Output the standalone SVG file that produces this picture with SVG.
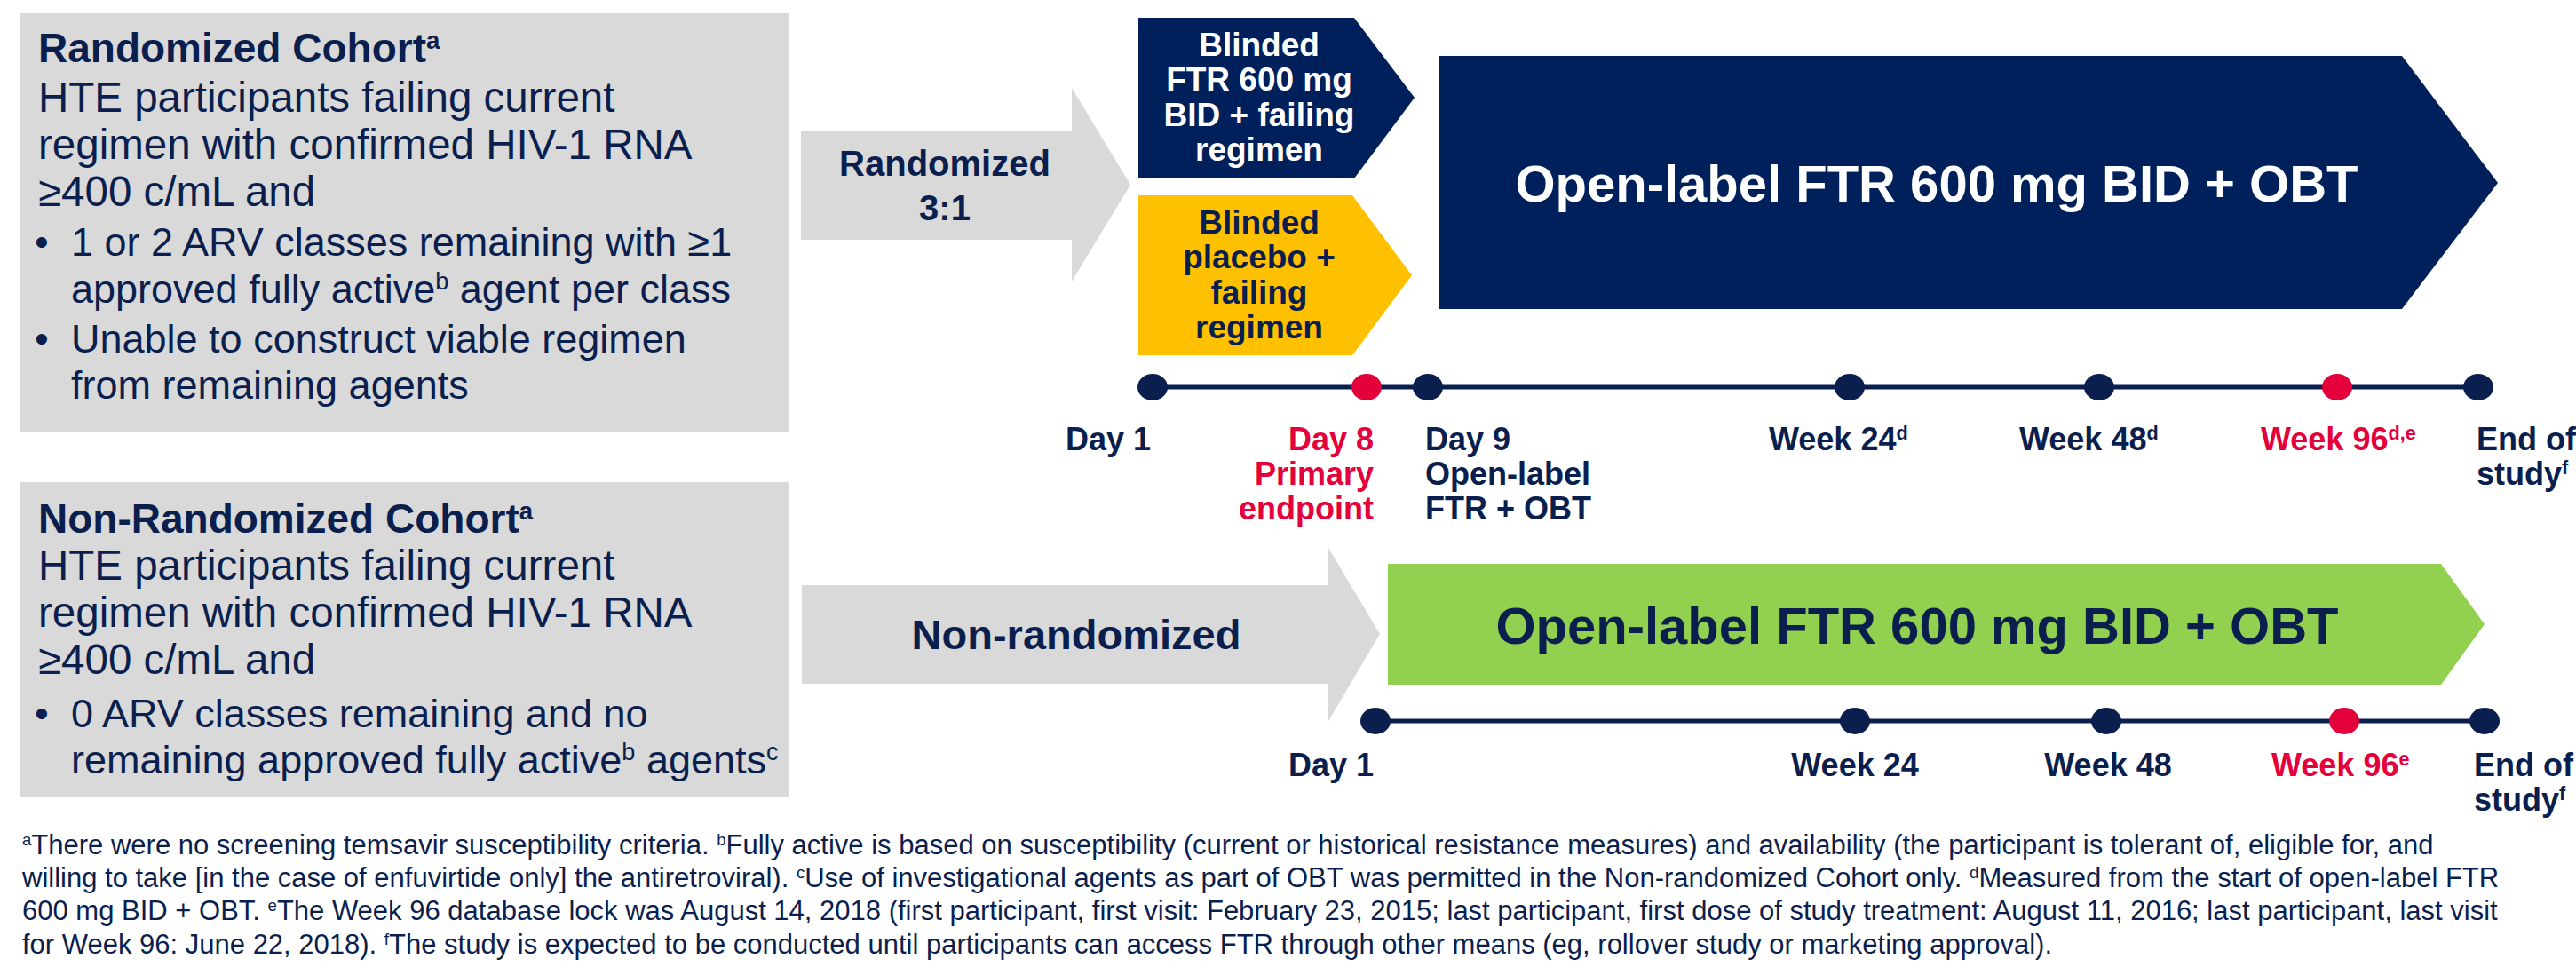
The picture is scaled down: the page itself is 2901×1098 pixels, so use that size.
<svg xmlns="http://www.w3.org/2000/svg" width="2901" height="1098" viewBox="0 0 2901 1098">
<style>
text{font-family:"Liberation Sans",Arial,sans-serif;fill:#0b1f4f}
.b{font-weight:bold}
.hd{font-size:46px;font-weight:bold}
.box{font-size:47.5px}
.bl{font-size:45px}
.tl{font-size:36px;font-weight:bold}
.red{fill:#e4003b}
.w{fill:#ffffff}
.fn{font-size:31px}
.sup{font-size:60%;baseline-shift:super}
.gray{fill:#d9d9d9}
.navy{fill:#00205b}
.dot{fill:#0b1f4f}
.rdot{fill:#e4003b}
.line{stroke:#0b1f4f;stroke-width:5;fill:none}
</style>
<rect width="2901" height="1098" fill="#ffffff"/>

<g id="randomized-cohort">
<rect class="gray" x="23" y="15" width="865" height="471"/>
<text class="hd" x="43" y="70">Randomized Cohort<tspan class="sup">a</tspan></text>
<text class="box" x="43" y="126">HTE participants failing current</text>
<text class="box" x="43" y="179">regimen with confirmed HIV-1 RNA</text>
<text class="box" x="43" y="232">≥400 c/mL and</text>
<text class="bl" x="39" y="288">•</text>
<text class="bl" x="80" y="288">1 or 2 ARV classes remaining with ≥1</text>
<text class="bl" x="80" y="341">approved fully active<tspan class="sup">b</tspan> agent per class</text>
<text class="bl" x="39" y="397">•</text>
<text class="bl" x="80" y="397">Unable to construct viable regimen</text>
<text class="bl" x="80" y="449">from remaining agents</text>
</g>

<g id="nonrandomized-cohort">
<rect class="gray" x="23" y="543" width="865" height="354"/>
<text class="hd" x="43" y="600">Non-Randomized Cohort<tspan class="sup">a</tspan></text>
<text class="box" x="43" y="653">HTE participants failing current</text>
<text class="box" x="43" y="706">regimen with confirmed HIV-1 RNA</text>
<text class="box" x="43" y="759">≥400 c/mL and</text>
<text class="bl" x="39" y="819">•</text>
<text class="bl" x="80" y="819">0 ARV classes remaining and no</text>
<text class="bl" x="80" y="871">remaining approved fully active<tspan class="sup">b</tspan> agents<tspan class="sup">c</tspan></text>
</g>

<g id="arrow-randomized">
<polygon class="gray" points="902,147 1207,147 1207,99 1273,208 1207,317 1207,270 902,270"/>
<text class="b" font-size="40" x="1064" y="198" text-anchor="middle">Randomized</text>
<text class="b" font-size="40" x="1064" y="248" text-anchor="middle">3:1</text>
</g>

<g id="arrow-nonrandomized">
<polygon class="gray" points="903,659 1496,659 1496,617 1554,714 1496,812 1496,770 903,770"/>
<text class="b" font-size="47" x="1212" y="731" text-anchor="middle">Non-randomized</text>
</g>

<g id="blinded-ftr">
<polygon class="navy" points="1282,20 1525,20 1593,110 1525,201 1282,201"/>
<text class="b w" font-size="37" text-anchor="middle"><tspan x="1418" y="63">Blinded</tspan><tspan x="1418" y="102">FTR 600 mg</tspan><tspan x="1418" y="142">BID + failing</tspan><tspan x="1418" y="181">regimen</tspan></text>
</g>

<g id="blinded-placebo">
<polygon fill="#ffc000" points="1282,220 1523,220 1590,310 1523,400 1282,400"/>
<text class="b" font-size="37" text-anchor="middle"><tspan x="1418" y="263">Blinded</tspan><tspan x="1418" y="302">placebo +</tspan><tspan x="1418" y="342">failing</tspan><tspan x="1418" y="381">regimen</tspan></text>
</g>

<g id="openlabel-randomized">
<polygon class="navy" points="1621,63 2705,63 2813,206 2705,348 1621,348"/>
<text class="b w" font-size="58" x="2181" y="227" text-anchor="middle">Open-label FTR 600 mg BID + OBT</text>
</g>

<g id="openlabel-nonrandomized">
<polygon fill="#92d050" points="1563,635 2749,635 2798,703 2749,771 1563,771"/>
<text class="b" font-size="58" x="2159" y="725" text-anchor="middle">Open-label FTR 600 mg BID + OBT</text>
</g>

<g id="connectors">
<line class="line" x1="1298" y1="436" x2="2792" y2="436"/>
<line class="line" x1="1549" y1="812" x2="2797" y2="812"/>
</g>

<g id="timeline-randomized">
<ellipse class="dot" cx="1298" cy="436" rx="17" ry="15"/>
<ellipse class="rdot" cx="1539" cy="436" rx="17" ry="15"/>
<ellipse class="dot" cx="1608" cy="436" rx="17" ry="15"/>
<ellipse class="dot" cx="2083" cy="436" rx="17" ry="15"/>
<ellipse class="dot" cx="2364" cy="436" rx="17" ry="15"/>
<ellipse class="rdot" cx="2632" cy="436" rx="17" ry="15"/>
<ellipse class="dot" cx="2791" cy="436" rx="17" ry="15"/>
<text class="tl" x="1296" y="507" text-anchor="end">Day 1</text>
<text class="tl red" text-anchor="end"><tspan x="1547" y="507">Day 8</tspan><tspan x="1547" y="546">Primary</tspan><tspan x="1547" y="585">endpoint</tspan></text>
<text class="tl"><tspan x="1605" y="507">Day 9</tspan><tspan x="1605" y="546">Open-label</tspan><tspan x="1605" y="585">FTR + OBT</tspan></text>
<text class="tl" x="1992" y="507">Week 24<tspan class="sup">d</tspan></text>
<text class="tl" x="2274" y="507">Week 48<tspan class="sup">d</tspan></text>
<text class="tl red" x="2546" y="507">Week 96<tspan class="sup">d,e</tspan></text>
<text class="tl"><tspan x="2789" y="507">End of</tspan><tspan x="2789" y="546">study<tspan class="sup">f</tspan></tspan></text>
</g>

<g id="timeline-nonrandomized">
<ellipse class="dot" cx="1549" cy="812" rx="17" ry="15"/>
<ellipse class="dot" cx="2089" cy="812" rx="17" ry="15"/>
<ellipse class="dot" cx="2372" cy="812" rx="17" ry="15"/>
<ellipse class="rdot" cx="2640" cy="812" rx="17" ry="15"/>
<ellipse class="dot" cx="2798" cy="812" rx="17" ry="15"/>
<text class="tl" x="1547" y="874" text-anchor="end">Day 1</text>
<text class="tl" x="2089" y="874" text-anchor="middle">Week 24</text>
<text class="tl" x="2374" y="874" text-anchor="middle">Week 48</text>
<text class="tl red" x="2558" y="874">Week 96<tspan class="sup">e</tspan></text>
<text class="tl"><tspan x="2786" y="874">End of</tspan><tspan x="2786" y="913">study<tspan class="sup">f</tspan></tspan></text>
</g>

<g id="footnotes">
<text class="fn" x="25" y="962"><tspan class="sup">a</tspan>There were no screening temsavir susceptibility criteria. <tspan class="sup">b</tspan>Fully active is based on susceptibility (current or historical resistance measures) and availability (the participant is tolerant of, eligible for, and</text>
<text class="fn" x="25" y="999">willing to take [in the case of enfuvirtide only] the antiretroviral). <tspan class="sup">c</tspan>Use of investigational agents as part of OBT was permitted in the Non-randomized Cohort only. <tspan class="sup">d</tspan>Measured from the start of open-label FTR</text>
<text class="fn" x="25" y="1036">600 mg BID + OBT. <tspan class="sup">e</tspan>The Week 96 database lock was August 14, 2018 (first participant, first visit: February 23, 2015; last participant, first dose of study treatment: August 11, 2016; last participant, last visit</text>
<text class="fn" x="25" y="1074">for Week 96: June 22, 2018). <tspan class="sup">f</tspan>The study is expected to be conducted until participants can access FTR through other means (eg, rollover study or marketing approval).</text>
</g>
</svg>
